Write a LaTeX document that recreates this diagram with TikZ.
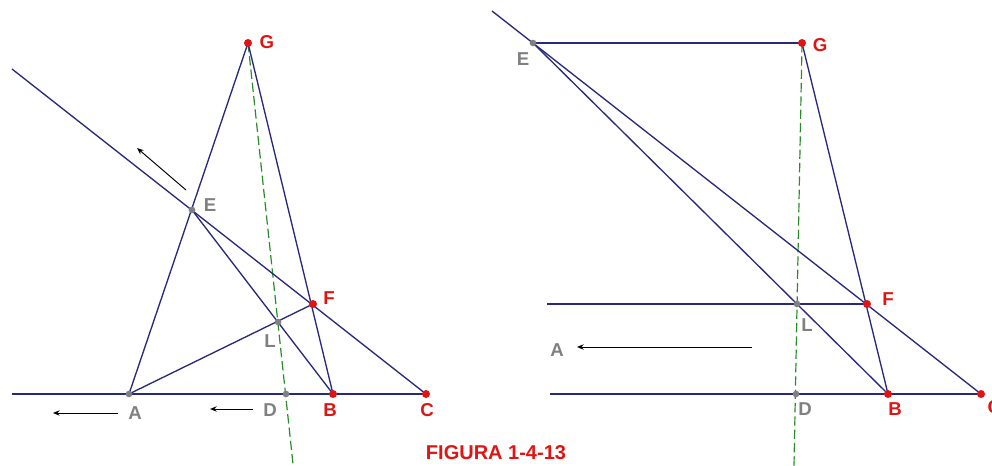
\documentclass[tikz,border=0pt]{standalone}
\usepackage{fontspec}
\setmainfont{Liberation Sans}
\usetikzlibrary{arrows.meta}
\definecolor{navy}{RGB}{40,40,125}
\definecolor{ptred}{RGB}{225,20,20}
\definecolor{ptgrey}{RGB}{128,128,128}
\definecolor{auxgreen}{RGB}{40,140,40}

\begin{document}
\begin{tikzpicture}[x=0.75pt,y=-0.75pt,
  ln/.style={draw=navy,line width=1pt},
  aux/.style={draw=auxgreen,line width=0.9pt,dash pattern=on 7pt off 3pt},
  arr/.style={draw=black,line width=0.7pt,-{Stealth[length=5pt,width=4pt]}},
  redpt/.style={circle,fill=ptred,inner sep=0pt,minimum size=6pt},
  greypt/.style={circle,fill=ptgrey,inner sep=0pt,minimum size=5pt},
  redlbl/.style={text=ptred,font=\fontsize{14}{16}\selectfont\bfseries},
  greylbl/.style={text=ptgrey,font=\fontsize{14}{16}\selectfont\bfseries}]
  \useasboundingbox (0,0) rectangle (992,466);

  \coordinate (G1) at (248,43);
  \coordinate (A1) at (129,394);
  \coordinate (D1) at (286,394);
  \coordinate (B1) at (333,394);
  \coordinate (C1) at (426,394);
  \coordinate (E1) at (192,210);
  \coordinate (F1) at (313,304);
  \coordinate (L1) at (278,322);
  \coordinate (base1) at (12,394);
  \coordinate (ray1) at (12,69);
  \coordinate (foot1) at (293,464);

  \coordinate (G2) at (802,43);
  \coordinate (E2) at (533,43);
  \coordinate (F2) at (867,304);
  \coordinate (L2) at (797,304);
  \coordinate (D2) at (796,394);
  \coordinate (B2) at (888,394);
  \coordinate (C2) at (981,394);
  \coordinate (ray2) at (492,11);
  \coordinate (par2) at (547,304);
  \coordinate (base2) at (550,394);
  \coordinate (foot2) at (794,466);

  \draw[aux] (G1) -- (foot1);
  \draw[ln] (base1) -- (C1);
  \draw[ln] (ray1) -- (C1);
  \draw[ln] (G1) -- (A1);
  \draw[ln] (G1) -- (B1);
  \draw[ln] (E1) -- (B1);
  \draw[ln] (A1) -- (F1);

  \draw[aux] (G2) -- (foot2);
  \draw[ln] (ray2) -- (C2);
  \draw[ln] (E2) -- (G2);
  \draw[ln] (E2) -- (B2);
  \draw[ln] (G2) -- (B2);
  \draw[ln] (par2) -- (F2);
  \draw[ln] (base2) -- (C2);

  \node[redpt] (pG1) at (G1) {};
  \node[greypt] (pA1) at (A1) {};
  \node[greypt] (pD1) at (D1) {};
  \node[redpt] (pB1) at (B1) {};
  \node[redpt] (pC1) at (C1) {};
  \node[greypt] (pE1) at (E1) {};
  \node[redpt] (pF1) at (F1) {};
  \node[greypt] (pL1) at (L1) {};
  \node[redpt] (pG2) at (G2) {};
  \node[greypt] (pE2) at (E2) {};
  \node[redpt] (pF2) at (F2) {};
  \node[greypt] (pL2) at (L2) {};
  \node[greypt] (pD2) at (D2) {};
  \node[redpt] (pB2) at (B2) {};
  \node[redpt] (pC2) at (C2) {};

  \node[redlbl] (lG1) at (267,42) {G};
  \node[greylbl] (lE1) at (210,205) {E};
  \node[redlbl] (lF1) at (329,298) {F};
  \node[greylbl] (lL1) at (270,341) {L};
  \node[greylbl] (lA1) at (135,413) {A};
  \node[greylbl] (lD1) at (270,410) {D};
  \node[redlbl] (lB1) at (330,410) {B};
  \node[redlbl] (lC1) at (427,410) {C};

  \node[greylbl] (lE2) at (523,59) {E};
  \node[redlbl] (lG2) at (820,45) {G};
  \node[redlbl] (lF2) at (888,299) {F};
  \node[greylbl] (lL2) at (807,325) {L};
  \node[greylbl] (lA2) at (557,350) {A};
  \node[greylbl] (lD2) at (805,409) {D};
  \node[redlbl] (lB2) at (895,409) {B};
  \node[redlbl,anchor=west] (lC2) at (983,407) {C};

  \coordinate (m1s) at (186,190);
  \coordinate (m1e) at (137,148);
  \coordinate (m2s) at (118,413);
  \coordinate (m2e) at (53,413);
  \coordinate (m3s) at (253,409);
  \coordinate (m3e) at (210,409);
  \coordinate (m4s) at (752,347);
  \coordinate (m4e) at (577,347);
  \draw[arr] (m1s) -- (m1e);
  \draw[arr] (m2s) -- (m2e);
  \draw[arr] (m3s) -- (m3e);
  \draw[arr] (m4s) -- (m4e);

  \node[text=ptred,font=\fontsize{15}{18}\selectfont\bfseries] (cap) at (496,453) {FIGURA 1-4-13};
\end{tikzpicture}
\end{document}
